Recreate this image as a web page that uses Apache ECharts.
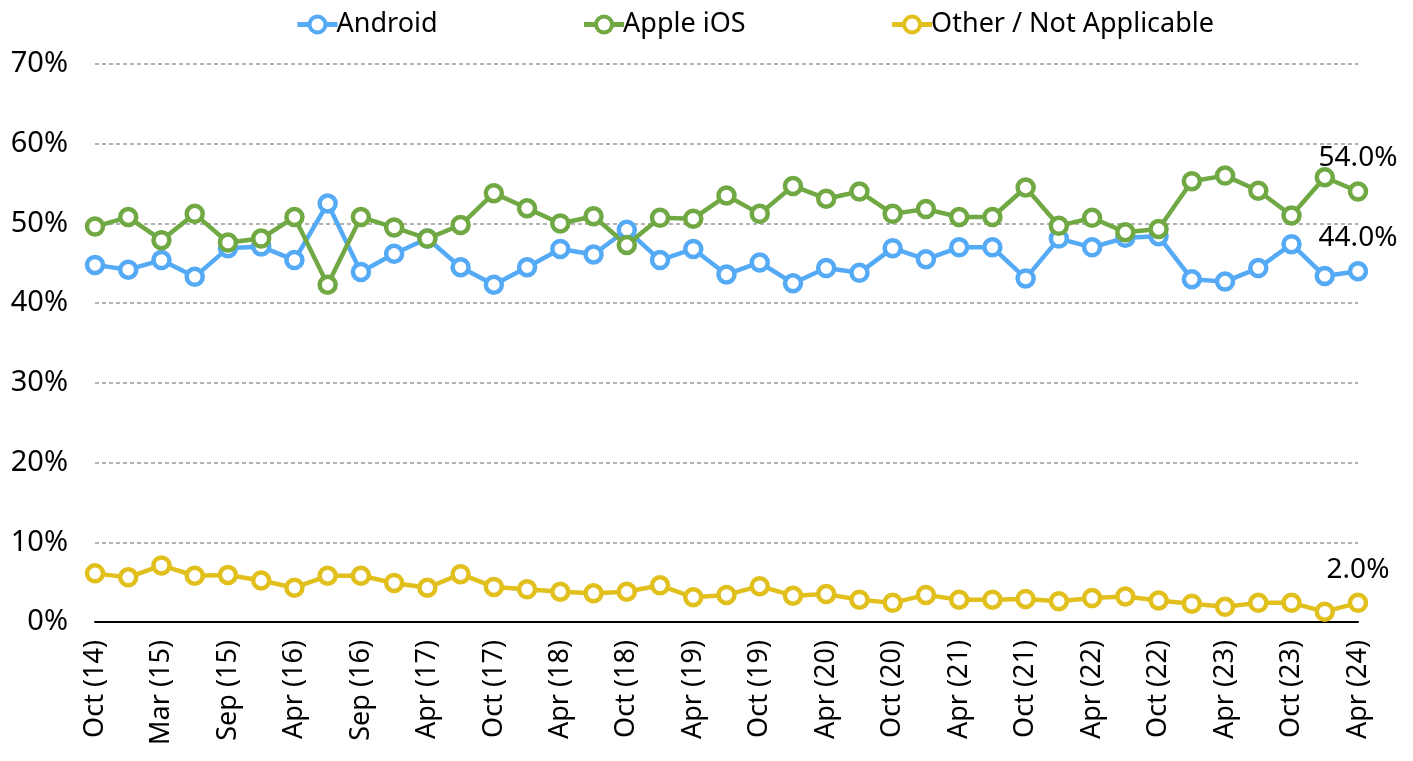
<!DOCTYPE html>
<html>
<head>
<meta charset="utf-8">
<script src="https://cdn.jsdelivr.net/npm/echarts@6/dist/echarts.min.js"></script>
<style>
  html, body { margin: 0; padding: 0; background: #fff; }
  #chart { width: 1413px; height: 761px; }
</style>
</head>
<body>
<div id="chart"></div>
<script>
// survey waves (only every other one is labelled on the axis)
const categories = [
  "Oct (14)", "Dec (14)", "Mar (15)", "Jun (15)", "Sep (15)", "Jan (16)", "Apr (16)", "Jun (16)",
  "Sep (16)", "Jan (17)", "Apr (17)", "Jul (17)", "Oct (17)", "Jan (18)", "Apr (18)", "Jul (18)",
  "Oct (18)", "Jan (19)", "Apr (19)", "Jul (19)", "Oct (19)", "Jan (20)", "Apr (20)", "Jul (20)",
  "Oct (20)", "Jan (21)", "Apr (21)", "Jul (21)", "Oct (21)", "Jan (22)", "Apr (22)", "Jul (22)",
  "Oct (22)", "Jan (23)", "Apr (23)", "Jul (23)", "Oct (23)", "Jan (24)", "Apr (24)"
];

const android = [
  44.8, 44.2, 45.4, 43.3, 46.9, 47.1, 45.4, 52.5, 43.9, 46.2, 48.1, 44.5, 42.3,
  44.5, 46.8, 46.1, 49.2, 45.4, 46.8, 43.6, 45.1, 42.5, 44.4, 43.8, 46.9, 45.5,
  47.0, 47.0, 43.1, 48.1, 47.0, 48.2, 48.4, 43.0, 42.7, 44.4, 47.4, 43.4, 44.0
];
const appleIos = [
  49.6, 50.8, 47.9, 51.2, 47.6, 48.1, 50.8, 42.3, 50.8, 49.5, 48.1, 49.8, 53.8,
  51.9, 50.0, 50.9, 47.3, 50.7, 50.6, 53.5, 51.2, 54.7, 53.1, 54.0, 51.2, 51.8,
  50.8, 50.8, 54.5, 49.7, 50.7, 48.9, 49.3, 55.3, 56.0, 54.1, 51.0, 55.8, 54.0
];
const other = [
  6.1, 5.6, 7.1, 5.8, 5.9, 5.2, 4.3, 5.8, 5.8, 4.9, 4.3, 6.0, 4.4,
  4.1, 3.8, 3.6, 3.8, 4.6, 3.1, 3.4, 4.5, 3.3, 3.5, 2.8, 2.4, 3.4,
  2.8, 2.8, 2.9, 2.6, 3.0, 3.2, 2.7, 2.3, 1.9, 2.4, 2.4, 1.3, 2.4
];

// labels printed next to the latest wave
const lastLabels = { android: "44.0%", apple: "54.0%", other: "2.0%" };

const FONT = "'Noto Sans', 'Open Sans', sans-serif";

function makeSeries(name, data, color, lastLabel) {
  return {
    name: name,
    type: "line",
    data: data,
    symbol: "circle",
    symbolSize: 16,
    showAllSymbol: true,
    lineStyle: { color: color, width: 4.5 },
    itemStyle: { color: "#fff", borderColor: color, borderWidth: 4.5 },
    label: {
      show: true,
      position: "top",
      distance: 9,
      color: "#000",
      fontFamily: FONT,
      fontSize: 28,
      formatter: function (p) {
        return p.dataIndex === data.length - 1 ? lastLabel : "";
      }
    },
    emphasis: { disabled: true },
    z: 3
  };
}

let myChart = echarts.init(document.getElementById("chart"));

let option = {
  animation: false,
  legend: {
    top: 6,
    left: 290,
    itemWidth: 40,
    itemHeight: 20,
    itemGap: 144,
    lineStyle: { width: 5 },
    itemStyle: { borderWidth: 4 },
    textStyle: { fontFamily: FONT, fontSize: 27, color: "#000", padding: [0, 0, 0, -6] },
    data: ["Android", "Apple iOS", "Other / Not Applicable"]
  },
  grid: {
    left: 95,
    right: 55,
    top: 64,
    bottom: 139
  },
  xAxis: {
    type: "category",
    data: categories,
    boundaryGap: false,
    axisLine: { lineStyle: { color: "#000", width: 2 } },
    axisTick: { show: false },
    axisLabel: {
      interval: 1,
      rotate: 90,
      margin: 18,
      color: "#000",
      fontFamily: FONT,
      fontSize: 27
    }
  },
  yAxis: {
    type: "value",
    min: 0,
    max: 70,
    interval: 10,
    axisLine: { show: false },
    axisTick: { show: false },
    axisLabel: {
      formatter: "{value}%",
      margin: 27,
      color: "#000",
      fontFamily: FONT,
      fontSize: 29
    },
    splitLine: { lineStyle: { color: "#999", type: [4, 3], width: 1.5 } }
  },
  series: [
    makeSeries("Android", android, "#55aaf6", lastLabels.android),
    makeSeries("Apple iOS", appleIos, "#70a843", lastLabels.apple),
    makeSeries("Other / Not Applicable", other, "#e1bf1c", lastLabels.other)
  ]
};

myChart.setOption(option);
</script>
</body>
</html>
